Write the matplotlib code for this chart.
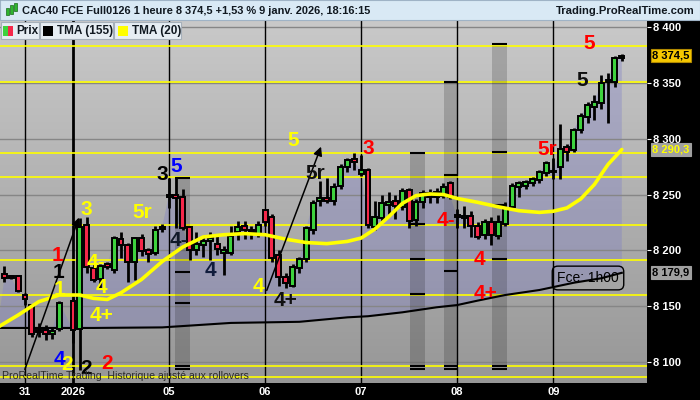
import numpy as np
import matplotlib
matplotlib.use("Agg")
import matplotlib.pyplot as plt
from matplotlib.patches import Rectangle
from matplotlib.ticker import FuncFormatter

plt.rcParams['font.family'] = ['Liberation Sans', 'DejaVu Sans']

# --- données (barres horaires, index 0 = 31 déc. 08h00) ---
bar_idx = list(range(-3, 6)) + list(range(7, 88))

opens = [8179, 8177, 8177,
         8160, 8151, 8128, 8129, 8125, 8130,
         8155, 8130, 8223, 8184, 8174, 8188, 8182, 8210, 8205, 8190, 8211, 8200, 8198, 8219,
         8248, 8250, 8248, 8221, 8200, 8205, 8208, 8206, 8198, 8198, 8216, 8222, 8218, 8214,
         8236, 8230, 8196, 8176, 8168, 8184, 8192, 8218, 8244, 8247, 8244, 8258, 8275, 8282,
         8268, 8272, 8221, 8229, 8241, 8244, 8239, 8254, 8227, 8243, 8251, 8248, 8249, 8260,
         8232, 8229, 8231, 8222, 8214, 8225, 8213, 8224, 8239, 8257, 8258, 8260, 8263, 8269,
         8270, 8275, 8293, 8290, 8308, 8319, 8328, 8332, 8351, 8351, 8372]
highs = [8186, 8178, 8178,
         8162, 8152, 8135, 8133, 8131, 8155,
         8157, 8229, 8230, 8189, 8188, 8190, 8213, 8216, 8207, 8212, 8215, 8202, 8222, 8224,
         8265, 8265, 8255, 8222, 8216, 8213, 8216, 8214, 8204, 8222, 8226, 8226, 8222, 8226,
         8237, 8233, 8200, 8180, 8188, 8194, 8222, 8245, 8262, 8265, 8260, 8277, 8283, 8287,
         8285, 8274, 8244, 8250, 8252, 8250, 8256, 8256, 8246, 8254, 8255, 8256, 8260, 8262,
         8237, 8240, 8235, 8225, 8228, 8230, 8232, 8243, 8260, 8262, 8263, 8266, 8272, 8280,
         8283, 8313, 8295, 8310, 8323, 8333, 8339, 8357, 8359, 8374, 8376]
lows = [8172, 8174, 8163,
        8151, 8122, 8122, 8120, 8121, 8128,
        8117, 8093, 8180, 8172, 8165, 8183, 8180, 8193, 8172, 8173, 8195, 8190, 8196, 8216,
        8238, 8220, 8218, 8191, 8196, 8194, 8191, 8196, 8178, 8196, 8209, 8210, 8210, 8212,
        8222, 8190, 8168, 8166, 8167, 8180, 8190, 8215, 8240, 8242, 8241, 8255, 8270, 8272,
        8267, 8220, 8218, 8225, 8233, 8228, 8236, 8220, 8222, 8238, 8242, 8242, 8247, 8246,
        8220, 8220, 8212, 8210, 8210, 8205, 8210, 8222, 8236, 8248, 8255, 8258, 8260, 8267,
        8264, 8264, 8280, 8288, 8305, 8314, 8317, 8327, 8314, 8346, 8370]
closes = [8175, 8175, 8164,
          8156, 8125, 8127, 8125, 8128, 8153,
          8129, 8221, 8185, 8173, 8186, 8185, 8211, 8205, 8190, 8211, 8199, 8197, 8218, 8221,
          8250, 8247, 8220, 8200, 8206, 8208, 8211, 8201, 8200, 8213, 8221, 8218, 8216, 8223,
          8225, 8193, 8176, 8171, 8185, 8192, 8220, 8242, 8247, 8244, 8257, 8275, 8281, 8279,
          8272, 8223, 8230, 8242, 8243, 8240, 8253, 8226, 8243, 8251, 8248, 8252, 8257, 8248,
          8230, 8231, 8222, 8212, 8225, 8214, 8225, 8238, 8258, 8260, 8261, 8264, 8270, 8278,
          8271, 8291, 8288, 8308, 8320, 8330, 8333, 8350, 8352, 8372, 8374.5]

# moyennes mobiles
tma20_idx = [-4, -1, 2, 5, 8, 10, 12, 14, 17, 20, 23, 26, 29, 32, 35, 38, 41, 44, 47, 49,
             51, 53, 55, 57, 59, 61, 63, 66, 69, 72, 75, 77, 79, 81, 83, 85, 87]
tma20_val = [8131, 8142, 8154, 8160, 8160, 8157, 8156, 8162, 8174, 8190, 8203, 8212, 8214,
             8215, 8214, 8210, 8207, 8206, 8208, 8211, 8219, 8230, 8242, 8249, 8250.5, 8250,
             8246.5, 8243, 8239, 8235.5, 8234, 8235, 8238, 8246, 8259, 8277, 8290.3]
tma155_idx = [-4, 0, 10, 20, 30, 40, 47, 50, 55, 60, 63, 66, 70, 75, 80, 84, 87]
tma155_val = [8130.5, 8130.5, 8130.5, 8131, 8135, 8136, 8140, 8141, 8144.5, 8149, 8151,
              8155, 8160, 8164.5, 8171, 8175, 8179.9]

yellow_levels = [8383, 8350.7, 8287, 8265.7, 8222.7, 8191.3, 8160, 8096.4, 8086.6]

day_idx = [0, 7, 21, 35, 49, 63, 77]
day_labels = ['31', '2026', '05', '06', '07', '08', '09']

# zones grisées : (début, fin, haut, bas, niveaux des traits)
zones = [(21.9, 24.1, 8265.7, 8096.4, [8265, 8181, 8153, 8096, 8094]),
         (56.1, 58.3, 8287, 8096.4, [8287, 8223.5, 8192, 8161, 8096, 8094]),
         (61.1, 63.1, 8350.7, 8096.4, [8350.5, 8267.5, 8181.5, 8096, 8094]),
         (68.1, 70.3, 8383, 8096.4, [8385, 8288, 8240.6, 8192.2, 8096, 8094])]

trendlines = [((-0.15, 8091), (8.0, 8231.7)),
              ((35.1, 8161.8), (43.3, 8295.2))]

wave_labels = [
    ('4', 5.0, 8101.8, '#0000ff'), ('2', 6.1, 8098, '#ffff00'), ('2', 8.9, 8094.6, 'black'),
    ('2', 12.0, 8099, '#ff0000'), ('1', 4.96, 8180.6, 'black'), ('1', 4.8, 8195, '#ff0000'),
    ('1', 5.0, 8164.5, '#ffff00'), ('3', 9.0, 8237, '#ffff00'), ('4-', 10.4, 8188.7, '#ffff00'),
    ('4', 11.1, 8166.3, '#ffff00'), ('4+', 11.1, 8142, '#ffff00'), ('5r', 17.1, 8234.3, '#ffff00'),
    ('3', 20.0, 8267.5, 'black'), ('5', 22.0, 8275.5, '#0000ff'), ('4-', 22.4, 8208.4, '#101828'),
    ('4', 27.1, 8182.4, '#101c3c'), ('4', 34.1, 8168, '#ffff00'), ('4+', 38.0, 8155.5, '#101010'),
    ('5', 39.1, 8298.8, '#ffff00'), ('5r', 42.3, 8268.4, '#101010'), ('3', 50.1, 8291.6, '#ff0000'),
    ('4-', 61.3, 8226.3, '#ff0000'), ('4', 66.2, 8192.2, '#ff0000'), ('4+', 67.1, 8161, '#ff0000'),
    ('5r', 76.1, 8290.7, '#ff0000'), ('5', 81.2, 8352.5, '#101010'), ('5', 82.2, 8385.7, '#ff0000'),
]

last_price = 8374.5
title = "CAC40 FCE Full0126 1 heure 8 374,5 +1,53 % 9 janv. 2026, 18:16:15"

W, H = 700, 400
fig = plt.figure(figsize=(7, 4), dpi=100, facecolor='black')
ax = fig.add_axes([0, 17 / H, 647 / W, 363 / H])
x0, x1 = -3.64, 90.67
y0, y1 = 8081.2, 8406.3

# fond dégradé
grad = np.linspace(0, 1, 256).reshape(-1, 1)
ax.imshow(grad, extent=(x0, x1, y0, y1), aspect='auto', origin='upper',
          cmap=matplotlib.colors.LinearSegmentedColormap.from_list('bg', ['#c9c9c9', '#979797']),
          zorder=0)

# aire entre clôtures et TMA(155)
poly_x = list(bar_idx) + tma155_idx[::-1]
poly_y = list(closes) + tma155_val[::-1]
ax.fill(poly_x, poly_y, color='#7c7cc8', alpha=0.34, lw=0, zorder=1)

for lvl in range(8100, 8401, 50):
    ax.axhline(lvl, color='#868686', lw=1, zorder=1.2)
for d in day_idx:
    ax.axvline(d, color='black', lw=2 if d == 7 else 1, zorder=1.5)
for lvl in yellow_levels:
    ax.axhline(lvl, color='#ffff00', lw=1.2, zorder=1.6)

for a, b, top, bot, marks in zones:
    ax.add_patch(Rectangle((a, bot), b - a, top - bot, facecolor='black', alpha=0.17,
                           lw=0, zorder=1.7))
    ax.hlines(marks, a, b, color='black', lw=1.5, zorder=1.8)

ax.plot(tma155_idx, tma155_val, color='black', lw=1.5, zorder=2)

for i, o, h, l, c in zip(bar_idx, opens, highs, lows, closes):
    ax.vlines(i, l, h, color='black', lw=2, zorder=3)
    lo = min(o, c)
    ht = max(abs(c - o), 1.5)
    col = '#3ed23e' if c >= o else '#f5284a'
    ax.add_patch(Rectangle((i - 0.36, lo), 0.72, ht, facecolor=col, edgecolor='black',
                           lw=1.4, zorder=4))

ax.plot(tma20_idx, tma20_val, color='#ffff00', lw=2.6, zorder=5, solid_capstyle='round')

for (xa, ya), (xb, yb) in trendlines:
    ax.annotate('', xy=(xb, yb), xytext=(xa, ya),
                arrowprops=dict(arrowstyle='-|>', color='black', lw=1.1, mutation_scale=13),
                zorder=6)

for txt, xi, yi, col in wave_labels:
    ax.text(xi, yi, txt, color=col, fontsize=15, fontweight='bold', ha='center',
            va='center', zorder=7)

ax.text(2 / 647, 7 / 363, "ProRealTime Trading  Historique ajusté aux rollovers",
        transform=ax.transAxes, fontsize=7.6, color='#2a2a2a', va='center', zorder=7)
ax.text(588 / 647, (383 - 278) / 363, "Fce: 1h00", transform=ax.transAxes, fontsize=10,
        ha='center', va='center', color='black', zorder=7,
        bbox=dict(boxstyle='round,pad=0.35,rounding_size=0.4', fc='none', ec='black', lw=1))

ax.set_xlim(x0, x1)
ax.set_ylim(y0, y1)
for s in ax.spines.values():
    s.set_visible(False)
ax.yaxis.tick_right()
ax.set_yticks(range(8100, 8401, 50))
ax.yaxis.set_major_formatter(FuncFormatter(lambda v, p: f"{int(v):,}".replace(",", " ")))
ax.tick_params(axis='y', colors='white', length=3, pad=1.5, labelsize=8)
ax.set_xticks(day_idx)
ax.set_xticklabels(day_labels)
ax.tick_params(axis='x', colors='white', length=0, pad=3, labelsize=8)
for lab in ax.get_xticklabels() + ax.get_yticklabels():
    lab.set_fontweight('bold')

# étiquettes de prix à droite
ytr = ax.get_yaxis_transform()
ax.text(1.008, last_price, "8 374,5", transform=ytr, fontsize=8, fontweight='bold',
        color='black', va='center', clip_on=False,
        bbox=dict(boxstyle='square,pad=0.15', fc='#f6c800', ec='#b08800', lw=0.8))
ax.text(1.008, tma20_val[-1], "8 290,3", transform=ytr, fontsize=8, fontweight='bold',
        color='#ffff00', va='center', clip_on=False,
        bbox=dict(boxstyle='square,pad=0.15', fc='#a0a0a0', ec='#a0a0a0', lw=0.8))
ax.text(1.008, tma155_val[-1], "8 179,9", transform=ytr, fontsize=8, fontweight='bold',
        color='black', va='center', clip_on=False,
        bbox=dict(boxstyle='square,pad=0.15', fc='#a0a0a0', ec='#a0a0a0', lw=0.8))

# barre de titre
fig.add_artist(Rectangle((0, 1 - 20 / H), 1, 20 / H, transform=fig.transFigure,
                         facecolor='#d9e9f5', edgecolor='#9fb3c6', lw=0.8))
fig.text(22 / W, 1 - 10.5 / H, title, fontsize=7.9, fontweight='bold', color='#101820',
         va='center')
fig.text(695 / W, 1 - 10.5 / H, "Trading.ProRealTime.com", fontsize=8.1, fontweight='bold',
         color='#101820', va='center', ha='right')
for k, (bx, by, bh) in enumerate([(6, 8, 7), (10, 5, 9), (14, 3, 8)]):
    fig.add_artist(Rectangle((bx / W, 1 - (by + bh) / H), 2.5 / W, bh / H,
                             transform=fig.transFigure, facecolor='#2fb52f',
                             edgecolor='#1a6a1a', lw=0.5))

# légende
for bx0, bx1 in [(1, 39), (40, 113), (114, 181)]:
    fig.add_artist(Rectangle((bx0 / W, 1 - 39 / H), (bx1 - bx0) / W, 17 / H,
                             transform=fig.transFigure, facecolor='#e6edf3',
                             edgecolor='#a6b0ba', lw=0.8))
fig.add_artist(Rectangle((3 / W, 1 - 36 / H), 5 / W, 10 / H, transform=fig.transFigure,
                         facecolor='#3ed23e', lw=0))
fig.add_artist(Rectangle((8 / W, 1 - 36 / H), 5 / W, 10 / H, transform=fig.transFigure,
                         facecolor='#f5284a', lw=0))
fig.add_artist(Rectangle((43 / W, 1 - 36 / H), 10 / W, 10 / H, transform=fig.transFigure,
                         facecolor='black', lw=0))
fig.add_artist(Rectangle((118 / W, 1 - 36 / H), 10 / W, 10 / H, transform=fig.transFigure,
                         facecolor='#ffff00', lw=0))
for tx, lbl in [(16, "Prix"), (57, "TMA (155)"), (132, "TMA (20)")]:
    fig.text(tx / W, 1 - 31 / H, lbl, fontsize=8.5, fontweight='bold', color='#101820',
             va='center')

fig.savefig("out.png", dpi=100, facecolor='black')
